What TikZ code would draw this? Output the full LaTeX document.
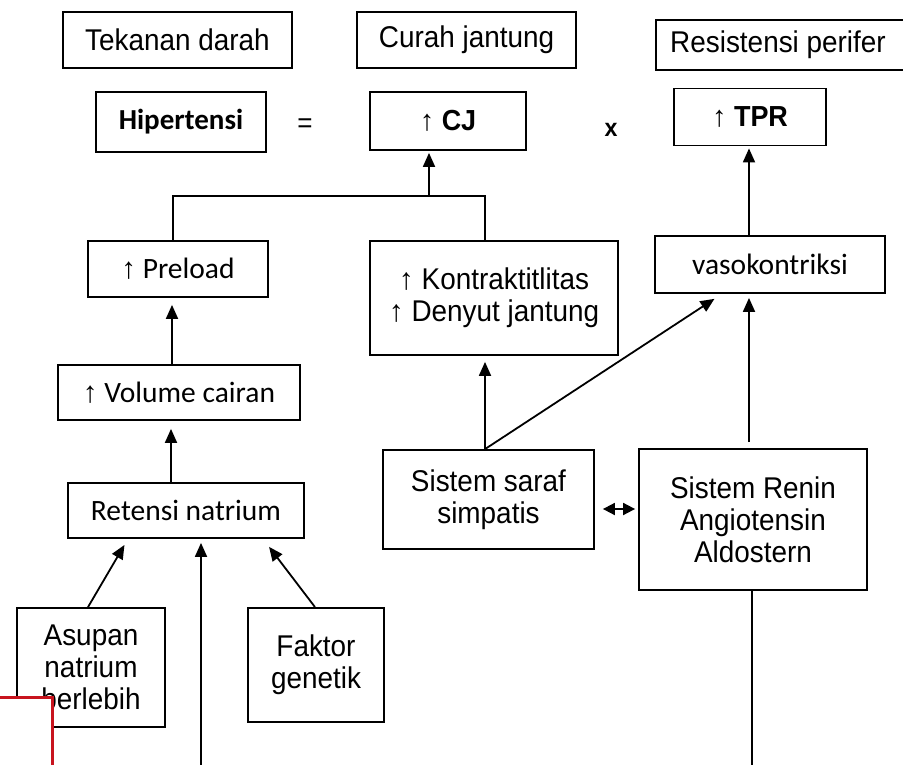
\documentclass[tikz,border=0pt]{standalone}
\usepackage{fontspec}
\setmainfont{Liberation Sans}[FakeStretch=0.93]
\newfontfamily\calib{Carlito}
\newfontfamily\arwf{Liberation Sans}
\usetikzlibrary{arrows.meta}
\newcommand\upa{{\arwf ↑}}
\begin{document}
\begin{tikzpicture}[x=1pt,y=-1pt,
  box/.style={draw, line width=1.8pt, inner sep=0pt, align=center, font=\fontsize{30}{32}\selectfont},
  cbox/.style={box, font=\calib\fontsize{29.5}{34}\selectfont},
  bbox/.style={box, font=\bfseries\fontsize{29}{30}\selectfont},
  arr/.style={-{Triangle[length=14pt,width=12pt]}, line width=1.8pt, shorten >=6pt},
  dbl/.style={{Triangle[length=12pt,width=12pt]}-{Triangle[length=12pt,width=12pt]}, line width=1.8pt},
  ln/.style={line width=1.8pt}]
\useasboundingbox (0,0) rectangle (903,765);
% top row
\node[box, minimum width=229pt, minimum height=56pt] (tek) at (177.5,40) {Tekanan darah};
\node[box, minimum width=219pt, minimum height=56pt] (cur) at (466.5,40) {\raisebox{4pt}{Curah jantung}};
\node[box, minimum width=252pt, minimum height=50pt] (res) at (782,45) {\hspace*{-4pt}Resistensi perifer\hspace*{4pt}};
% equation row
\node[box, font=\calib\bfseries\fontsize{29}{31}\selectfont, minimum width=170pt, minimum height=60pt] (hip) at (181,122) {Hipertensi};
\node[font=\fontsize{28}{31}\selectfont] (eq) at (305,126) {=};
\node[bbox, minimum width=156pt, minimum height=58pt] (cj) at (448,121) {\upa\ CJ};
\node[font=\bfseries\fontsize{25}{30}\selectfont] (xo) at (611,130) {x};
\node[bbox, minimum width=152pt, minimum height=57pt] (tpr) at (750,117) {\upa\ TPR};
% middle
\node[cbox, minimum width=180pt, minimum height=56pt] (pre) at (178,269) {\upa\ Preload};
\node[box, minimum width=248pt, minimum height=114pt] (kon) at (494,298) {\upa\ Kontraktitlitas\\\upa\ Denyut jantung};
\node[cbox, minimum width=230pt, minimum height=57pt] (vas) at (770,264.5) {vasokontriksi};
\node[cbox, minimum width=242pt, minimum height=55pt] (vol) at (179,392.5) {\upa\ Volume cairan};
\node[cbox, minimum width=236pt, minimum height=55pt] (ret) at (186,510.5) {Retensi natrium};
\node[box, minimum width=211pt, minimum height=99pt] (sss) at (488.5,499.5) {Sistem saraf\\simpatis};
\node[box, minimum width=228pt, minimum height=141pt] (sra) at (753,519.5) {Sistem Renin\\Angiotensin\\Aldostern};
\node[box, minimum width=148pt, minimum height=119pt] (asu) at (91,667.5) {Asupan\\natrium\\berlebih};
\node[box, minimum width=136pt, minimum height=114pt] (fak) at (316,665) {Faktor\\genetik};
% connectors
\coordinate (j) at (429,196);
\draw[ln] ([xshift=-5pt]pre.north) |- (j) -| ([xshift=-9pt]kon.north);
\draw[arr, shorten >=2pt] (j) -- (j |- cj.south);
\draw[arr, shorten >=2pt] ([xshift=-21pt]vas.north) coordinate (v1) -- (v1 |- tpr.south);
\draw[arr, shorten >=7pt] ([xshift=-7pt]vol.north) coordinate (v2) -- (v2 |- pre.south);
\draw[arr, shorten >=8pt] ([xshift=-15pt]ret.north) coordinate (v3) -- (v3 |- vol.south);
\draw[arr, shorten >=6pt] ([xshift=-3.5pt]sss.north) coordinate (v4) -- (v4 |- kon.south);
\draw[arr, shorten >=9pt] (v4) -- ([xshift=-48pt]vas.south);
\draw[arr, shorten >=4pt] ([xshift=-4pt,yshift=6pt]sra.north) coordinate (v5) -- (v5 |- vas.south);
\coordinate (b1) at (752,770);
\draw[ln] (b1 |- sra.south) -- (b1);
\coordinate (b2) at (201,770);
\draw[arr, shorten >=4pt] (b2) -- (b2 |- ret.south);
\draw[arr, shorten >=7pt] ([xshift=-3pt]asu.north) -- ([xshift=-58pt]ret.south);
\draw[arr, shorten >=10pt] ([xshift=-1pt]fak.north) -- ([xshift=77pt]ret.south);
\draw[dbl, shorten >=3pt] ([xshift=8pt,yshift=-9.5pt]sss.east) coordinate (d1) -- (d1 -| sra.west);
% red overlay box
\draw[draw={rgb,255:red,200;green,20;blue,30}, line width=3pt, fill=white] (-3,697) rectangle (52,770);
\end{tikzpicture}
\end{document}
